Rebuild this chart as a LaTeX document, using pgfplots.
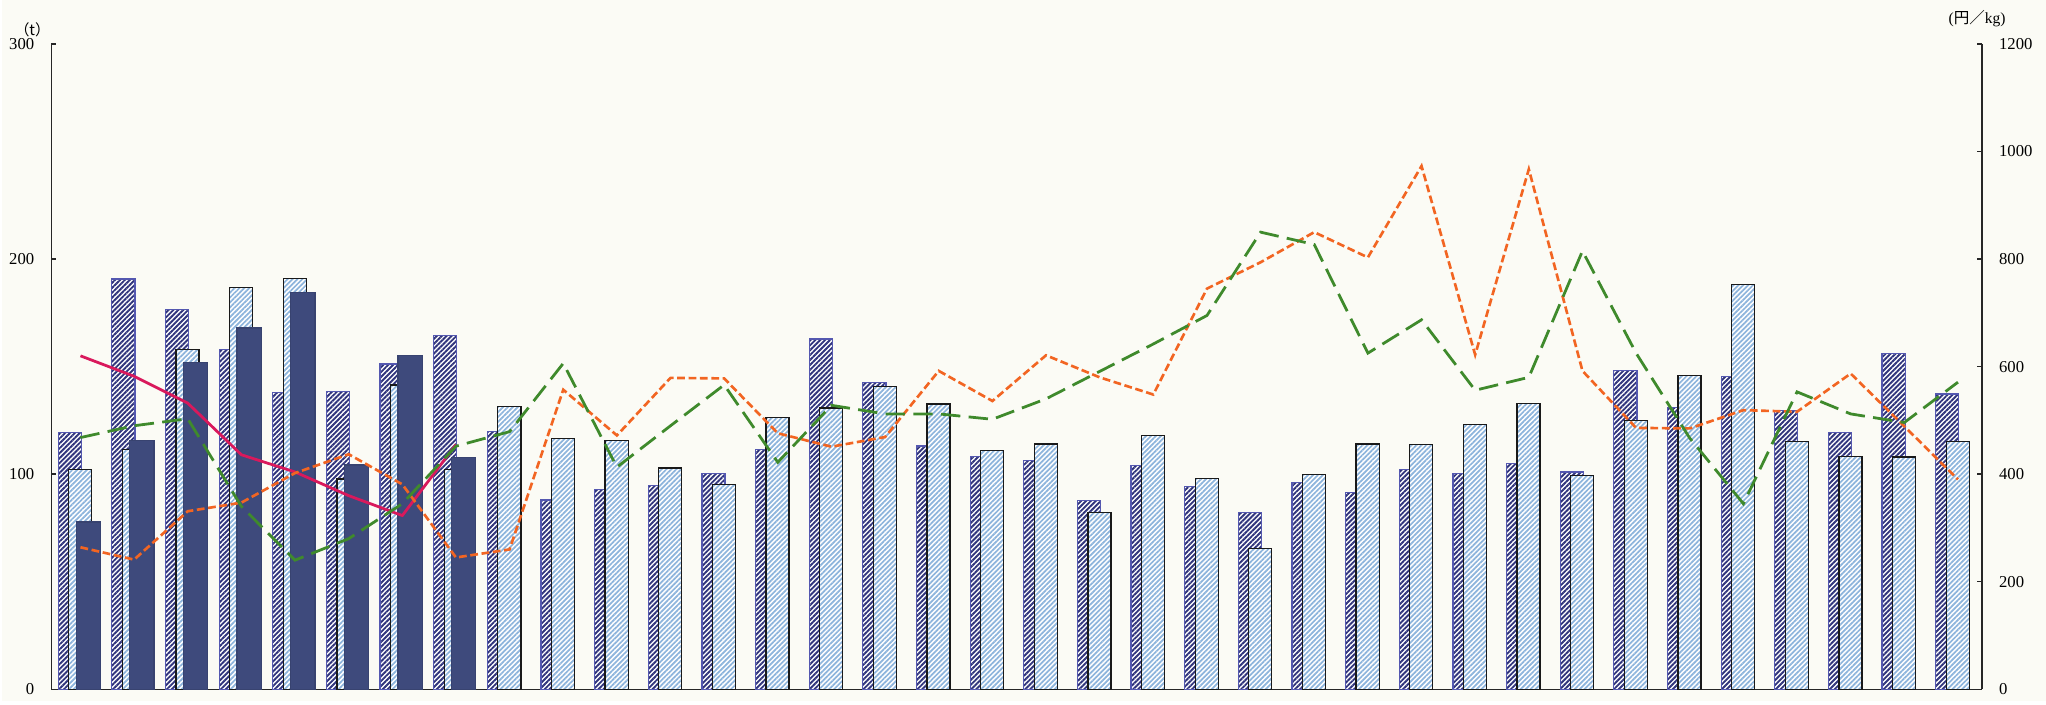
\documentclass[border=0pt]{standalone}
\usepackage{fontspec}
\setmainfont{Liberation Serif}
\newfontfamily\cjk{Noto Sans CJK JP}
\usepackage{pgfplots}
\usepackage{pgfplotstable}
\pgfplotsset{compat=1.18}
\usetikzlibrary{patterns.meta,backgrounds}

\definecolor{bgc}{HTML}{FBFBF5}
\definecolor{hatchA}{HTML}{30347C}
\definecolor{edgeA}{HTML}{5458B0}
\definecolor{stripeB}{HTML}{8DB4DC}
\definecolor{navyC}{HTML}{3E4A7C}
\definecolor{pinkL}{HTML}{D9195C}
\definecolor{orangeL}{HTML}{F26522}
\definecolor{greenL}{HTML}{3F8A2C}

% g: group, A: hatched bar, B: light bar, C: solid bar (t)
% pink, orange, green: lines (yen/kg)
\pgfplotstableread{
g  A     B     C     pink orange green
1  119.4 102.3 77.8  620  264    468
2  190.7 111.6 115.8 582  241    490
3  176.7 157.8 151.8 532  331    503
4  158.1 186.8 167.9 436  347    340
5  138.0 191.0 184.3 404  402    240
6  138.3 97.7  104.3 360  437    280
7  151.2 141.4 155.3 323  381    345
8  164.3 102.3 107.6 455  245    452
9  119.9 131.6 nan   nan  260    479
10 88.0  116.7 nan   nan  557    606
11 93.0  115.8 nan   nan  472    413
12 94.8  102.8 nan   nan  579    490
13 100.2 95.3  nan   nan  578    566
14 111.4 126.3 nan   nan  476    422
15 162.8 130.7 nan   nan  451    528
16 142.6 140.6 nan   nan  469    512
17 113.1 132.6 nan   nan  592    512
18 108.2 111.0 nan   nan  536    502
19 106.3 114.0 nan   nan  621    540
20 87.9  82.0  nan   nan  580    591
21 104.0 117.8 nan   nan  548    642
22 94.1  98.0  nan   nan  745    695
23 82.1  65.5  nan   nan  794    850
24 96.2  100.0 nan   nan  850    827
25 91.4  114.0 nan   nan  803    625
26 102.2 113.8 nan   nan  973    687
27 100.2 123.0 nan   nan  622    556
28 105.0 132.9 nan   nan  967    580
29 101.0 99.2  nan   nan  592    815
30 148.2 125.0 nan   nan  486    625
31 131.0 146.0 nan   nan  485    467
32 145.3 188.0 nan   nan  519    345
33 129.5 115.0 nan   nan  516    553
34 119.3 108.2 nan   nan  587    512
35 156.1 108.0 nan   nan  489    496
36 137.3 115.2 nan   nan  390    571
}\data

\pgfplotsset{
  base/.style={
    scale only axis, width=695.88pt, height=232.56pt,
    xmin=0.655, xmax=36.65, ymin=0,
    xtick=\empty, clip mode=individual,
    tick align=inside, major tick length=1.8pt,
    axis line style={line width=0.5pt, black!85},
    major tick style={line width=0.5pt, black!85},
    ticklabel style={font=\fontsize{6}{7}\selectfont},
    /pgf/number format/assume math mode=true,
    /pgf/number format/1000 sep={},
  },
  barA/.style={ybar, bar width=0.43, bar shift=0pt, line width=0.45pt, draw=edgeA,
    preaction={fill=white}, pattern={Lines[angle=45,distance=1.25pt,line width=0.68pt]}, pattern color=hatchA},
  barB/.style={ybar, bar width=0.43, bar shift=0pt, line width=0.45pt, draw=black!90,
    preaction={fill=white}, pattern={Lines[angle=45,distance=1.25pt,line width=0.62pt]}, pattern color=stripeB},
  barC/.style={ybar, bar width=0.45, bar shift=0pt, line width=0.45pt, draw=navyC!90!black, fill=navyC},
}

\begin{document}
\begin{tikzpicture}
\begin{axis}[base, ymax=300,
    axis x line*=bottom, axis y line*=left,
    ytick={0,100,200,300},
    yticklabel style={xshift=-2.6pt}]
  \addplot[barA] table[x=g, y=A] {\data};
  \addplot[barB] table[x expr=\thisrow{g}+0.195, y=B] {\data};
  \addplot[barC] table[x expr=\thisrow{g}+0.345, y=C] {\data};
  \node[font=\cjk\fontsize{5.4}{6}\selectfont] at (rel axis cs:-0.0098,1.022) {（t）};
\end{axis}
\begin{axis}[base, ymax=1200,
    axis x line=none, axis y line*=right,
    ytick={0,200,400,600,800,1000,1200},
    yticklabel style={xshift=2.6pt}]
  \addplot[pinkL, line width=1pt] table[x expr=\thisrow{g}+0.2, y=pink] {\data};
  \addplot[orangeL, line width=0.95pt, dash pattern=on 2.8pt off 1.3pt] table[x expr=\thisrow{g}+0.2, y=orange] {\data};
  \addplot[greenL, line width=1pt, dash pattern=on 7pt off 3pt] table[x expr=\thisrow{g}+0.2, y=green] {\data};
  \node[font=\fontsize{5.6}{6.5}\selectfont] at (rel axis cs:0.9974,1.04) {(\cjk 円／\normalfont kg)};
\end{axis}
\begin{scope}[on background layer]
  \fill[bgc] (-17.64pt,-4.32pt) rectangle (718.92pt,248.4pt);
\end{scope}
\end{tikzpicture}
\end{document}
